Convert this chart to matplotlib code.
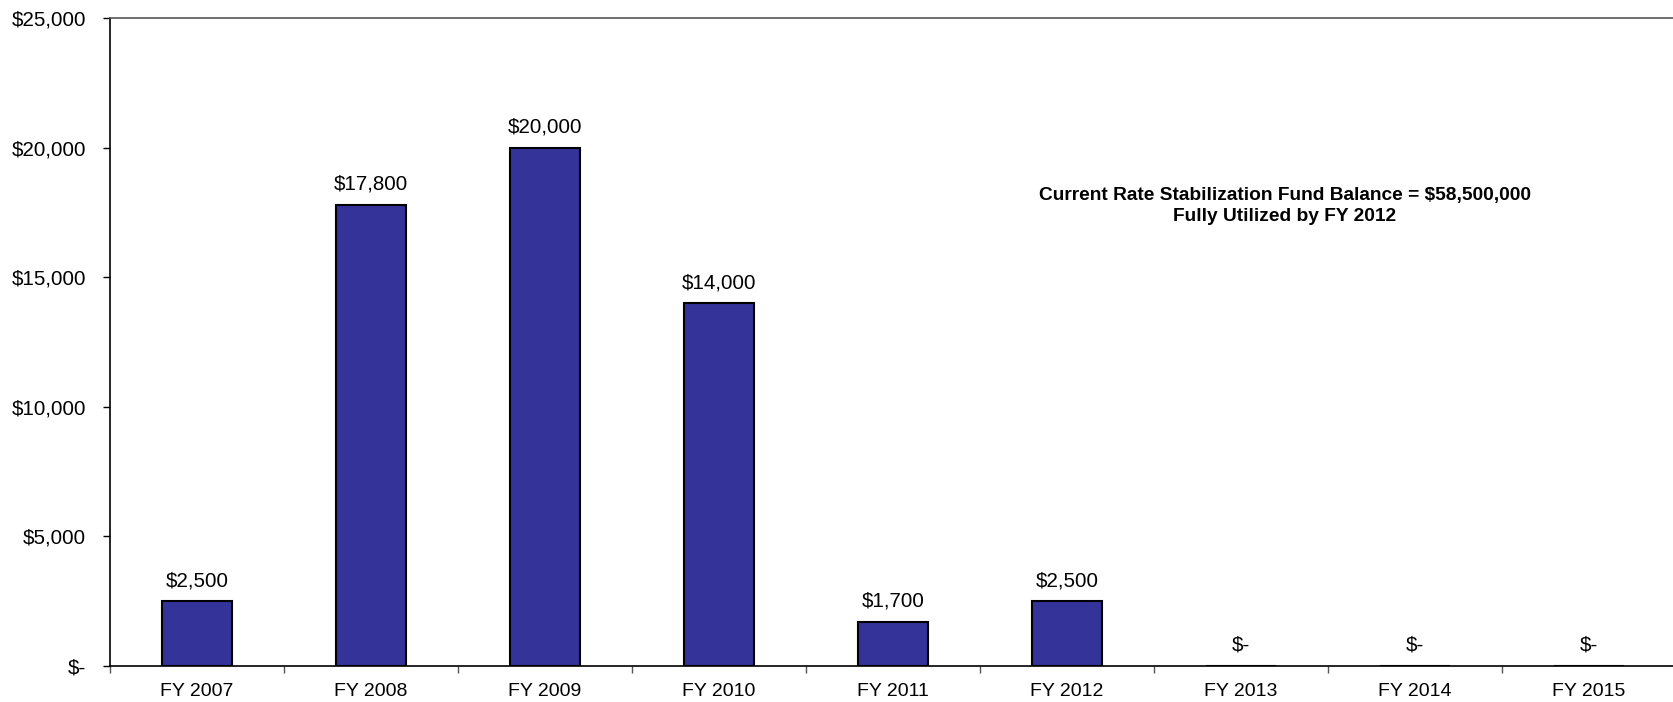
import matplotlib.pyplot as plt
from matplotlib.ticker import FuncFormatter, FixedLocator

plt.rcParams['font.family'] = ['Liberation Sans', 'DejaVu Sans']

# Rate stabilization fund draws by fiscal year ($ thousands)
years = ["FY 2007", "FY 2008", "FY 2009", "FY 2010", "FY 2011",
         "FY 2012", "FY 2013", "FY 2014", "FY 2015"]
draws = [2500, 17800, 20000, 14000, 1700, 2500, 0, 0, 0]
y_ticks = [0, 5000, 10000, 15000, 20000, 25000]
note = "Current Rate Stabilization Fund Balance = $58,500,000\nFully Utilized by FY 2012"


def dollars(v, pos=None):
    if v == 0:
        return "$-"
    return "${:,.0f}".format(v)


fig = plt.figure(figsize=(16.73, 7.02), dpi=100)
ax = fig.add_axes([110 / 1673, 36 / 702, 1566 / 1673, 648 / 702])

x = list(range(len(years)))
ax.bar(x, draws, width=0.40, color="#333399", edgecolor="black", linewidth=1.5, zorder=3)

for xi, v in zip(x, draws):
    ax.annotate(dollars(v), (xi, v), xytext=(0, 8), textcoords="offset points",
                ha="center", va="bottom", fontsize=14.8)

ax.set_xlim(-0.5, len(years) - 0.5)
ax.set_ylim(0, 25000)
ax.set_yticks(y_ticks)
ax.yaxis.set_major_formatter(FuncFormatter(dollars))

# labels at category centres, tick marks between categories
ax.set_xticks(x)
ax.set_xticklabels(years)
ax.xaxis.set_minor_locator(FixedLocator([i - 0.5 for i in range(len(years) + 1)]))
ax.tick_params(axis="x", which="major", length=0, pad=12, labelsize=14)
ax.tick_params(axis="x", which="minor", length=5, width=1, color="#555555")
ax.tick_params(axis="y", length=5, width=1, pad=12, labelsize=14.8)

ax.spines["right"].set_visible(False)
for s in ("top", "left", "bottom"):
    ax.spines[s].set_linewidth(1.2)
ax.spines["top"].set_color("#555555")

ax.text(1285 / 1673, 1 - 206 / 702, note, transform=fig.transFigure,
        ha="center", va="center", fontsize=13.8, fontweight="bold", linespacing=1.3)

fig.savefig("out.png", dpi=100)
